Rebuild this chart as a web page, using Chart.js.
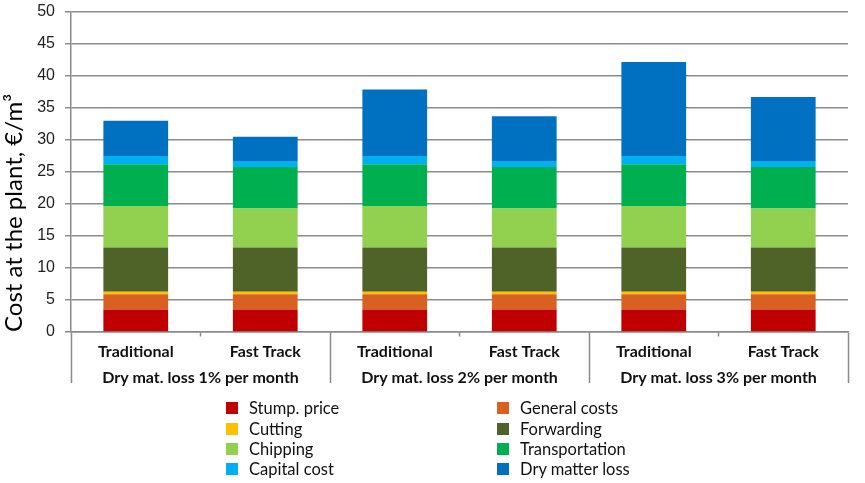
<!DOCTYPE html>
<html>
<head>
<meta charset="utf-8">
<script src="https://cdn.jsdelivr.net/npm/chart.js@4.4.0/dist/chart.umd.min.js"></script>
<style>
  html, body { margin: 0; padding: 0; background: #ffffff; }
  #wrap { position: relative; width: 865px; height: 483px; }
  #legend { position: absolute; left: 0; top: 0; width: 865px; height: 483px; pointer-events: none;
            font-family: Lato, "Open Sans", sans-serif; font-size: 16.5px; color: #111; }
  .li { position: absolute; display: flex; align-items: center; white-space: nowrap; }
  .sw { width: 12px; height: 12px; margin-right: 11px; }
</style>
</head>
<body>
<div id="wrap">
  <canvas id="c" width="865" height="483"></canvas>
  <div id="legend"></div>
</div>
<script>
const categories = ['Traditional', 'Fast Track', 'Traditional', 'Fast Track', 'Traditional', 'Fast Track'];
const groupLabels = ['Dry mat. loss 1% per month', 'Dry mat. loss 2% per month', 'Dry mat. loss 3% per month'];
const yTicks = [0, 5, 10, 15, 20, 25, 30, 35, 40, 45, 50];

const stumpPrice     = [3.5, 3.5, 3.5, 3.5, 3.5, 3.5];
const generalCosts   = [2.4, 2.4, 2.4, 2.4, 2.4, 2.4];
const cutting        = [0.4, 0.4, 0.4, 0.4, 0.4, 0.4];
const forwarding     = [6.9, 6.9, 6.9, 6.9, 6.9, 6.9];
const chipping       = [6.5, 6.1, 6.5, 6.1, 6.5, 6.1];
const transportation = [6.5, 6.5, 6.5, 6.5, 6.5, 6.5];
const capitalCost    = [1.3, 0.9, 1.3, 0.9, 1.3, 0.9];
const dryMatterLoss  = [5.5, 3.8, 10.4, 7.0, 14.7, 10.0];

const seriesNames = ['Stump. price', 'General costs', 'Cutting', 'Forwarding', 'Chipping', 'Transportation', 'Capital cost', 'Dry matter loss'];
const seriesData = [stumpPrice, generalCosts, cutting, forwarding, chipping, transportation, capitalCost, dryMatterLoss];
const seriesColors = ['#C00000', '#D8611F', '#FFC000', '#4F6228', '#92D050', '#00B050', '#00B0F0', '#0070C0'];

const GRID = '#8a8a8a';

const datasets = seriesNames.map((n, i) => ({
  label: n,
  data: seriesData[i],
  backgroundColor: seriesColors[i],
  borderWidth: 0,
  barPercentage: 0.5,
  categoryPercentage: 1.0
}));

const chart = new Chart(document.getElementById('c'), {
  type: 'bar',
  data: { labels: categories, datasets },
  options: {
    responsive: false,
    animation: false,
    layout: { padding: { top: 12, right: 17, bottom: 94, left: 0 } },
    plugins: { legend: { display: false }, tooltip: { enabled: false } },
    scales: {
      x: {
        stacked: true,
        offset: true,
        weight: 0,
        grid: {
          offset: true,
          drawOnChartArea: false,
          drawTicks: true,
          tickLength: 27,
          tickColor: GRID,
          tickWidth: 1.5,
          tickBorderDash: (ctx) => (ctx.index % 2 === 1 ? [4, 200] : [])
        },
        border: { display: true, color: GRID, width: 1.5 },
        ticks: {
          padding: -17,
          color: '#111',
          font: { family: 'Lato', size: 16, weight: 'bold' }
        },
        afterFit: (s) => { s.height = 27; }
      },
      x2: {
        type: 'category',
        position: 'bottom',
        labels: groupLabels,
        offset: true,
        weight: 1,
        grid: {
          offset: true,
          drawOnChartArea: false,
          drawTicks: true,
          tickLength: 24,
          tickColor: GRID,
          tickWidth: 1.5
        },
        border: { display: false },
        ticks: {
          padding: -15,
          color: '#111',
          font: { family: 'Lato', size: 16, weight: 'bold' }
        },
        afterFit: (s) => { s.height = 30; }
      },
      y: {
        stacked: true,
        min: 0,
        max: 50,
        afterBuildTicks: (s) => { s.ticks = yTicks.map(v => ({ value: v })); },
        grid: {
          color: GRID,
          lineWidth: 1.5,
          drawTicks: true,
          tickLength: 16,
          tickColor: GRID,
          tickBorderDash: [0, 10, 6, 100]
        },
        border: { display: true, color: GRID, width: 1.5 },
        ticks: {
          padding: 0,
          color: '#222',
          font: { family: 'Liberation Sans', size: 16 }
        },
        title: {
          display: true,
          text: 'Cost at the plant, €/m³',
          align: 'start',
          color: '#000',
          font: { family: 'Lato', size: 24 },
          padding: { top: 0, bottom: 0 }
        },
        afterFit: (s) => { s.width = 71; }
      }
    }
  }
});

// HTML legend built from the chart's datasets (two columns)
const legendEl = document.getElementById('legend');
const colX = [226, 497];
const rowY = [408, 429, 449, 469];
chart.data.datasets.forEach((ds, i) => {
  const col = i % 2, row = Math.floor(i / 2);
  const d = document.createElement('div');
  d.className = 'li';
  d.style.left = colX[col] + 'px';
  d.style.top = (rowY[row] - 10) + 'px';
  d.style.height = '20px';
  const sw = document.createElement('span');
  sw.className = 'sw';
  sw.style.background = ds.backgroundColor;
  const t = document.createElement('span');
  t.textContent = ds.label;
  d.appendChild(sw); d.appendChild(t);
  legendEl.appendChild(d);
});
</script>
</body>
</html>
